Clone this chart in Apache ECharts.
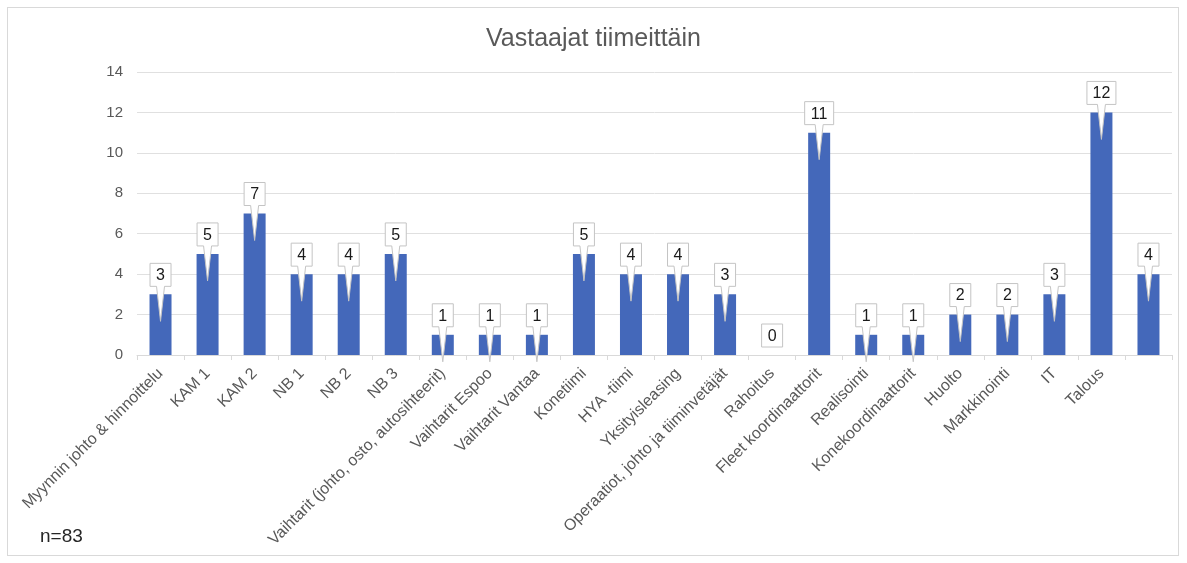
<!DOCTYPE html>
<html>
<head>
<meta charset="utf-8">
<script src="https://cdn.jsdelivr.net/npm/echarts@6/dist/echarts.min.js"></script>
<style>
  html, body { margin: 0; padding: 0; background: #fff; }
  #frame { position: absolute; left: 7px; top: 7px; width: 1172px; height: 549px; border: 1px solid #d9d9d9; box-sizing: border-box; }
  #chart { position: absolute; left: 0; top: 0; width: 1187px; height: 563px; }
</style>
</head>
<body>
<div id="frame"></div>
<div id="chart"></div>
<script>
// Team names (the last one is left unlabelled)
const teams = [
  'Myynnin johto & hinnoittelu', 'KAM 1', 'KAM 2', 'NB 1', 'NB 2', 'NB 3',
  'Vaihtarit (johto, osto, autosihteerit)', 'Vaihtarit Espoo', 'Vaihtarit Vantaa',
  'Konetiimi', 'HYA -tiimi', 'Yksityisleasing', 'Operaatiot, johto ja tiiminvetäjät',
  'Rahoitus', 'Fleet koordinaattorit', 'Realisointi', 'Konekoordinaattorit',
  'Huolto', 'Markkinointi', 'IT', 'Talous', ''
];
// Respondents per team
const respondents = [3, 5, 7, 4, 4, 5, 1, 1, 1, 5, 4, 4, 3, 0, 11, 1, 1, 2, 2, 3, 12, 4];
const yTicks = [0, 2, 4, 6, 8, 10, 12, 14];
const chartTitle = 'Vastaajat tiimeittäin';
const sampleNote = 'n=83';

const chart = echarts.init(document.getElementById('chart'), null, { renderer: 'canvas' });

// Callout box with a pointer tail dipping into the bar
function renderCallout(params, api) {
  const idx = api.value(0);
  const val = api.value(1);
  const top = api.coord([idx, val]);
  const cx = top[0], barTop = top[1];
  const text = String(val);
  const w = text.length > 1 ? 29 : 21;
  const h = 23;
  const x0 = cx - w / 2, x1 = cx + w / 2;
  const y1 = barTop - 8, y0 = y1 - h;
  let pts;
  if (val > 0) {
    const tipY = barTop + 27;
    pts = [[x0, y0], [x1, y0], [x1, y1], [cx + 4, y1], [cx, tipY], [cx - 4, y1], [x0, y1]];
  } else {
    pts = [[x0, y0], [x1, y0], [x1, y1], [x0, y1]];
  }
  return {
    type: 'group',
    children: [
      { type: 'polygon', shape: { points: pts },
        style: { fill: '#ffffff', stroke: '#c4c4c4', lineWidth: 1 } },
      { type: 'text', style: { text: text, x: cx, y: (y0 + y1) / 2 + 1,
        align: 'center', verticalAlign: 'middle',
        font: '16px "Liberation Sans", Arial, sans-serif', fill: '#1a1a1a' } }
    ]
  };
}

chart.setOption({
  animation: false,
  textStyle: { fontFamily: '"Liberation Sans", Arial, sans-serif' },
  title: {
    text: chartTitle, left: 'center', top: 22,
    textStyle: { fontSize: 25, fontWeight: 'normal', color: '#595959' }
  },
  graphic: [{
    type: 'text', left: 40, top: 527,
    style: { text: sampleNote, font: '19px "Liberation Sans", Arial, sans-serif', fill: '#262626' }
  }],
  grid: { left: 137, right: 15, top: 72, bottom: 208 },
  xAxis: {
    type: 'category', data: teams,
    axisLine: { lineStyle: { color: '#d9d9d9' } },
    axisTick: { show: true, length: 5, lineStyle: { color: '#d9d9d9' } },
    axisLabel: { interval: 0, rotate: 45, fontSize: 16, color: '#595959', margin: 16 }
  },
  yAxis: {
    type: 'value', min: 0, max: 14, interval: 2,
    axisLabel: { fontSize: 15, color: '#595959', margin: 14,
      formatter: v => yTicks.includes(v) ? String(v) : '' },
    axisLine: { show: false }, axisTick: { show: false },
    splitLine: { lineStyle: { color: '#e0e0e0' } }
  },
  series: [
    { type: 'bar', data: respondents, barWidth: 22,
      itemStyle: { color: '#4468BA' } },
    { type: 'custom', clip: false, z: 5,
      data: respondents.map((v, i) => [i, v]),
      encode: { x: 0, y: 1 },
      renderItem: renderCallout }
  ]
});
</script>
</body>
</html>
